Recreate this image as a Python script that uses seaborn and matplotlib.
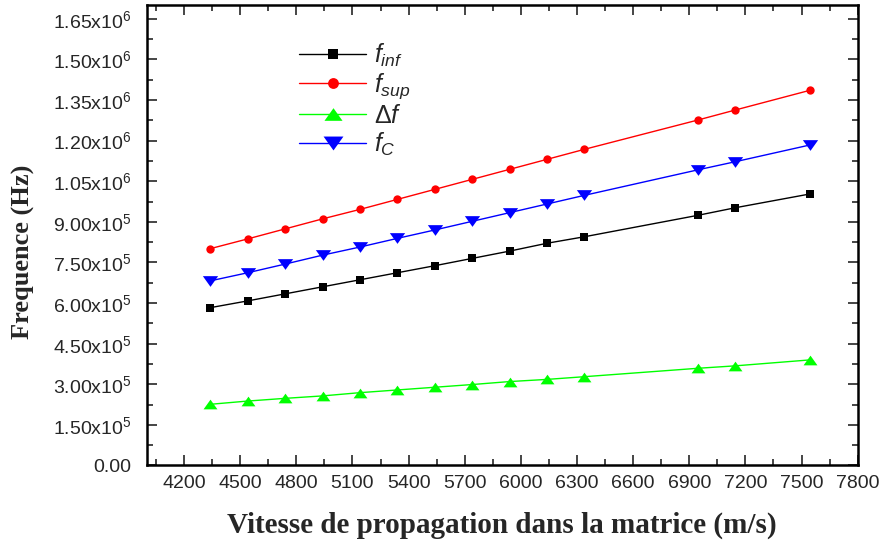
import numpy as np
import pandas as pd
import matplotlib
matplotlib.use('Agg')
import matplotlib.pyplot as plt
from matplotlib.ticker import MultipleLocator, FuncFormatter
import seaborn as sns

# velocities (m/s)
vitesse = [4340, 4540, 4740, 4940, 5140, 5340, 5540, 5740, 5940, 6140, 6340, 6945, 7145, 7545]

# frequencies (Hz)
f_inf = [5.83e5, 6.08e5, 6.34e5, 6.60e5, 6.86e5, 7.12e5, 7.38e5, 7.65e5, 7.92e5,
         8.21e5, 8.45e5, 9.24e5, 9.52e5, 1.003e6]
f_sup = [8.01e5, 8.37e5, 8.74e5, 9.11e5, 9.46e5, 9.83e5, 1.020e6, 1.057e6, 1.094e6,
         1.131e6, 1.168e6, 1.276e6, 1.313e6, 1.386e6]
delta_f = [2.26e5, 2.38e5, 2.48e5, 2.57e5, 2.69e5, 2.79e5, 2.89e5, 2.99e5, 3.10e5,
           3.18e5, 3.28e5, 3.59e5, 3.68e5, 3.90e5]
f_c = [6.82e5, 7.12e5, 7.44e5, 7.77e5, 8.07e5, 8.39e5, 8.70e5, 9.02e5, 9.34e5,
       9.66e5, 9.98e5, 1.092e6, 1.122e6, 1.184e6]

sns.set_style('ticks')
plt.rcParams['font.family'] = ['Liberation Sans', 'DejaVu Sans']
plt.rcParams['mathtext.fontset'] = 'custom'
plt.rcParams['mathtext.rm'] = 'Liberation Sans'
plt.rcParams['mathtext.it'] = 'Liberation Sans:italic'
plt.rcParams['mathtext.default'] = 'regular'

df = pd.DataFrame({'v': vitesse, 'inf': f_inf, 'sup': f_sup, 'delta': delta_f, 'c': f_c})

tri_up = [(0, 0.7), (-1, -0.7), (1, -0.7)]
tri_down = [(0, -0.7), (-1, 0.7), (1, 0.7)]

fig = plt.figure(figsize=(8.83, 5.41), dpi=100)
ax = fig.add_axes([0.1661, 0.1396, 0.8052, 0.8506])

sns.lineplot(data=df, x='v', y='inf', ax=ax, color='black', marker='s', markersize=5.5,
             markeredgewidth=0, lw=1, label=r'$\mathit{f}_{\mathit{inf}}$')
sns.lineplot(data=df, x='v', y='sup', ax=ax, color='#ff0000', marker='o', markersize=6,
             markeredgewidth=0, lw=1, label=r'$\mathit{f}_{\mathit{sup}}$')
sns.lineplot(data=df, x='v', y='delta', ax=ax, color='#00ff00', marker=tri_up, markersize=10,
             markeredgewidth=0, lw=1, label=r'$\mathit{\Delta f}$')
sns.lineplot(data=df, x='v', y='c', ax=ax, color='#0000ff', marker=tri_down, markersize=11,
             markeredgewidth=0, lw=1, label=r'$\mathit{f}_{\mathit{C}}$')

ax.set_xlim(4000, 7800)
ax.set_ylim(0, 1.7e6)
ax.xaxis.set_major_locator(MultipleLocator(300))
ax.xaxis.set_minor_locator(MultipleLocator(150))
ax.yaxis.set_major_locator(MultipleLocator(1.5e5))
ax.yaxis.set_minor_locator(MultipleLocator(7.5e4))


def fmt(y, pos):
    if y < 0:
        return ''
    if y < 1:
        return '0.00'
    e = int(np.floor(np.log10(y)))
    return f'{y / 10**e:.2f}x10$^{{{e}}}$'


ax.yaxis.set_major_formatter(FuncFormatter(fmt))
ax.set_xticks([x for x in range(4200, 7801, 300)])

ax.tick_params(which='both', direction='in', top=True, right=True, width=1.2, labelsize=14)
ax.tick_params(which='major', length=7)
ax.tick_params(which='minor', length=4)
ax.tick_params(axis='x', pad=7)
ax.tick_params(axis='y', pad=11)
for s in ax.spines.values():
    s.set_linewidth(1.8)
    s.set_color('black')

ax.set_xlabel('Vitesse de propagation dans la matrice (m/s)', family='Liberation Serif',
              fontweight='bold', fontsize=21)
ax.set_ylabel('Frequence (Hz)', family='Liberation Serif', fontweight='bold', fontsize=19)
ax.xaxis.set_label_coords(0.5, -0.10)
ax.yaxis.set_label_coords(-0.157, 0.464)

leg = ax.legend(loc='upper left', bbox_to_anchor=(0.2, 0.942), frameon=False, fontsize=18,
                handlelength=2.7, handletextpad=0.3, labelspacing=0.1, borderaxespad=0,
                markerscale=1.3)

fig.savefig('out.png', dpi=100)
